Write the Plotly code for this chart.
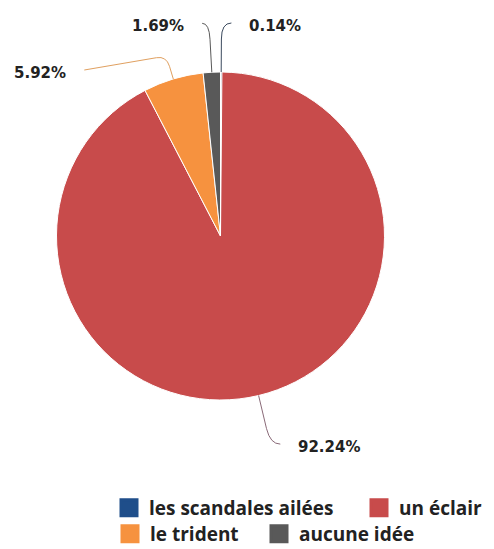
import math
import plotly.graph_objects as go

# ---- data ----
labels = ["les scandales ailées", "un éclair", "le trident", "aucune idée"]
values = [0.14, 92.24, 5.92, 1.69]
colors = ["#1F4E8A", "#C84B4B", "#F6923F", "#595959"]

# ---- style / layout config (screen pixel coordinates) ----
PAGE_OFF = 8                      # default body margin of the html page
W, H = 494 - PAGE_OFF, 549 - PAGE_OFF
CX, CY, R = 220.5 - PAGE_OFF, 236.0 - PAGE_OFF, 164.0
conn_ext = [49, 50, 24, 49]     # radial length of connector
conn_run = [10, 10, 82, 7]      # horizontal run after the bend
conn_drop = [0, 0, 14, 0]       # vertical drift along the run
conn_colors = ["#3b4a5e", "#8a6a78", "#E0A060", "#595959"]
label_gap = 16
# legend entry origins (screen px): one small legend per entry so rows flow like the original
legend_pos = [(109, 508), (359, 508), (110, 534), (259, 534)]
legend_ids = ["legend", "legend2", "legend3", "legend4"]

fig = go.Figure()

fig.add_trace(go.Pie(
    labels=labels, values=values, sort=False, direction="clockwise", rotation=0,
    marker=dict(colors=colors, line=dict(color="white", width=1)),
    textinfo="none", hoverinfo="label+percent", showlegend=False,
    domain=dict(x=[(CX - R) / W, (CX + R) / W], y=[1 - (CY + R) / H, 1 - (CY - R) / H]),
))

# legend entries
for lab, col, lg in zip(labels, colors, legend_ids):
    fig.add_trace(go.Scatter(
        x=[None], y=[None], mode="markers", name=lab, legend=lg,
        marker=dict(symbol="square", size=16, color=col, line=dict(color=col, width=3)),
        xaxis="x", yaxis="y",
    ))

# connectors + labels computed from slice angles
total = sum(values)
cum = 0.0
shapes, annots = [], []
for i, v in enumerate(values):
    mid = (cum + v / 2) / total
    cum += v
    th = 2 * math.pi * mid
    ux, uy = math.sin(th), -math.cos(th)
    side = 1 if ux >= 0 else -1
    ex, ey = CX + R * ux, CY + R * uy
    ext = conn_ext[i]
    kx, ky = ex + ext * ux, ey + ext * uy
    endx, endy = kx + side * conn_run[i], ky + conn_drop[i]
    c = min(16, ext * 0.45)
    p1x, p1y = kx - c * ux, ky - c * uy
    dx, dy = endx - kx, endy - ky
    dl = math.hypot(dx, dy)
    s = min(10, dl) / dl
    p2x, p2y = kx + dx * s, ky + dy * s
    path = (f"M{ex:.1f},{ey:.1f} L{p1x:.1f},{p1y:.1f} Q{kx:.1f},{ky:.1f} {p2x:.1f},{p2y:.1f} "
            f"L{endx:.1f},{endy:.1f}")
    shapes.append(dict(type="path", path=path, xref="x", yref="y",
                       line=dict(color=conn_colors[i], width=1), layer="above"))
    annots.append(dict(
        x=endx + side * label_gap, y=endy + 3, xref="x", yref="y",
        text=f"{v:.2f}%", showarrow=False,
        xanchor="left" if side > 0 else "right", yanchor="middle",
        font=dict(family="DejaVu Sans", size=15, color="#222222", weight="bold"),
    ))

legend_font = dict(family="Open Sans", size=19, color="#222222", weight=700)
legends = {}
for lg, (lx, ly) in zip(legend_ids, legend_pos):
    legends[lg] = dict(orientation="h", x=(lx - PAGE_OFF) / W, xanchor="left",
                       y=1 - (ly - PAGE_OFF) / H, yanchor="middle",
                       font=legend_font, itemclick=False, itemdoubleclick=False,
                       bgcolor="rgba(0,0,0,0)", borderwidth=0)

fig.update_layout(
    width=W, height=H,
    margin=dict(l=0, r=0, t=0, b=0, autoexpand=False),
    paper_bgcolor="white", plot_bgcolor="white",
    xaxis=dict(range=[0, W], visible=False, fixedrange=True, domain=[0, 1]),
    yaxis=dict(range=[H, 0], visible=False, fixedrange=True, domain=[0, 1]),
    shapes=shapes, annotations=annots,
    showlegend=True,
    **legends,
)

fig.write_html("out.html")
